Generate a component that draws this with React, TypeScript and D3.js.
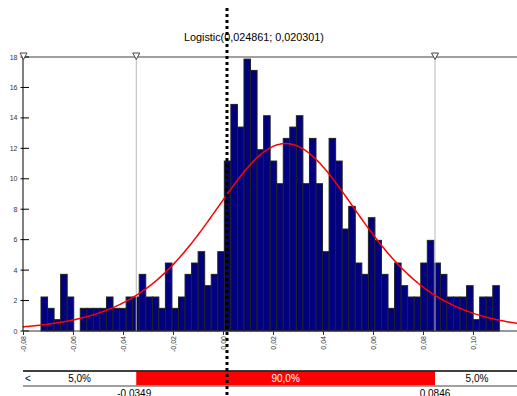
import React from "react";
import * as d3 from "d3";

// Histogram counts per bin
const counts = [
  3, 2, 1, 5, 3, 0, 2, 2, 2, 2, 3, 2, 2, 3, 3, 5, 3, 3, 2, 6, 2, 3, 5, 6, 7, 4, 5, 7, 15,
  20, 18, 24, 23, 16, 19, 15, 13, 17, 18, 19, 13, 17, 13, 7,
  17, 15, 9, 11, 6, 5, 10, 8, 5, 2, 6, 4, 3, 3, 6, 8, 6, 5, 3, 3, 3, 4, 1, 3, 3, 4,
];
const binStart = -0.073;
const binWidth = 0.002619;

const logisticMu = 0.024861;
const logisticS = 0.020301;
const titleText = "Logistic(0,024861; 0,020301)";

const xTicks = [-0.08, -0.06, -0.04, -0.02, 0.0, 0.02, 0.04, 0.06, 0.08, 0.1];
const xTickLabels = ["-0,08", "-0,06", "-0,04", "-0,02", "0,00", "0,02", "0,04", "0,06", "0,08", "0,10"];
const yTicks = [0, 2, 4, 6, 8, 10, 12, 14, 16, 18];

const lowerBound = -0.0349;
const upperBound = 0.0846;
const lowerLabel = "-0,0349";
const upperLabel = "0,0846";
const leftPct = "5,0%";
const midPct = "90,0%";
const rightPct = "5,0%";
const markerValues = [-0.08, lowerBound, upperBound];
const dottedValue = 0.0014;

const W = 517;
const H = 396;

export default function App() {
  const x = d3.scaleLinear().domain([-0.08, 0.0]).range([23.5, 223.5]);
  const y = d3.scaleLinear().domain([0, 18]).range([331, 57]);
  const left = 23;
  const right = W;
  const N = d3.sum(counts);
  const dens = counts.map((c) => c / (N * binWidth));

  const pdf = (v: number) => {
    const z = Math.exp(-(v - logisticMu) / logisticS);
    return z / (logisticS * (1 + z) * (1 + z));
  };
  const xMin = x.invert(left);
  const xMax = x.invert(right);
  const pts: [number, number][] = d3.range(0, 301).map((i) => {
    const v = xMin + ((xMax - xMin) * i) / 300;
    return [v, pdf(v)];
  });
  const line = d3
    .line<[number, number]>()
    .x((d) => x(d[0]))
    .y((d) => y(d[1]))
    .curve(d3.curveMonotoneX);

  const font = "Liberation Sans, Arial, sans-serif";
  const xl = x(lowerBound);
  const xu = x(upperBound);

  return (
    <svg
      width={W}
      height={H}
      style={{ position: "absolute", left: 0, top: 0, background: "#fff" }}
      fontFamily={font}
    >
      {/* bars */}
      {dens.map((d, i) => {
        const x0 = x(binStart + i * binWidth);
        const x1 = x(binStart + (i + 1) * binWidth);
        if (counts[i] === 0) return null;
        return (
          <rect
            key={i}
            x={x0}
            y={y(d)}
            width={x1 - x0}
            height={y(0) - y(d)}
            fill="#000080"
            stroke="#222"
            strokeWidth={1}
          />
        );
      })}

      {/* bound lines */}
      {[lowerBound, upperBound].map((v, i) => (
        <line key={i} x1={x(v)} x2={x(v)} y1={57} y2={331} stroke="#b8b8b8" strokeWidth={1} />
      ))}

      {/* curve */}
      <path d={line(pts) || ""} fill="none" stroke="#ff0000" strokeWidth={1.5} />

      {/* top line */}
      <line x1={left} x2={right} y1={57} y2={57} stroke="#808080" strokeWidth={1.5} />

      {/* y axis */}
      <line x1={left} x2={left} y1={57} y2={331} stroke="#000" strokeWidth={1} />
      {yTicks.map((t) => (
        <g key={t}>
          <line x1={20.5} x2={29} y1={y(t)} y2={y(t)} stroke="#000" strokeWidth={1} />
          <text x={17.5} y={y(t) + 2.5} fontSize={7} textAnchor="end" fill="#333">
            {t}
          </text>
        </g>
      ))}

      {/* x axis */}
      <line x1={left} x2={right} y1={331} y2={331} stroke="#333" strokeWidth={1.2} />
      {xTicks.map((t, i) => (
        <g key={t}>
          <line x1={x(t)} x2={x(t)} y1={331} y2={335} stroke="#333" strokeWidth={1} />
          <text
            transform={`translate(${x(t) + 2.5},${336}) rotate(-90)`}
            fontSize={7}
            textAnchor="end"
            fill="#333"
          >
            {xTickLabels[i]}
          </text>
        </g>
      ))}

      {/* markers */}
      {markerValues.map((v, i) => {
        const cx = x(v);
        return (
          <path
            key={i}
            d={`M${cx - 3.5},53 L${cx + 3.5},53 L${cx},59.5 Z`}
            fill="#fff"
            stroke="#444"
            strokeWidth={1}
          />
        );
      })}

      {/* title */}
      <text x={184} y={41} fontSize={10.8} textAnchor="start" fill="#000">
        {titleText}
      </text>

      {/* bottom band */}
      <rect x={xl} y={371.5} width={xu - xl} height={14} fill="#ff0000" />
      <line x1={left} x2={right} y1={371} y2={371} stroke="#000" strokeWidth={1.5} />
      <line x1={left} x2={right} y1={386} y2={386} stroke="#808080" strokeWidth={1.5} />
      <text x={25} y={382} fontSize={10} fill="#000">
        {"<"}
      </text>
      <text x={(left + xl) / 2} y={382} fontSize={10} textAnchor="middle" fill="#000">
        {leftPct}
      </text>
      <text x={(xl + xu) / 2} y={382} fontSize={10} textAnchor="middle" fill="#fff">
        {midPct}
      </text>
      <text x={(xu + right) / 2 + 1} y={382} fontSize={10} textAnchor="middle" fill="#000">
        {rightPct}
      </text>
      <text x={xl - 2} y={397} fontSize={10} textAnchor="middle" fill="#000">
        {lowerLabel}
      </text>
      <text x={xu} y={397} fontSize={10} textAnchor="middle" fill="#000">
        {upperLabel}
      </text>

      {/* dotted line */}
      <line
        x1={x(dottedValue)}
        x2={x(dottedValue)}
        y1={8}
        y2={H}
        stroke="#000"
        strokeWidth={3}
        strokeDasharray="3,3"
      />
    </svg>
  );
}
